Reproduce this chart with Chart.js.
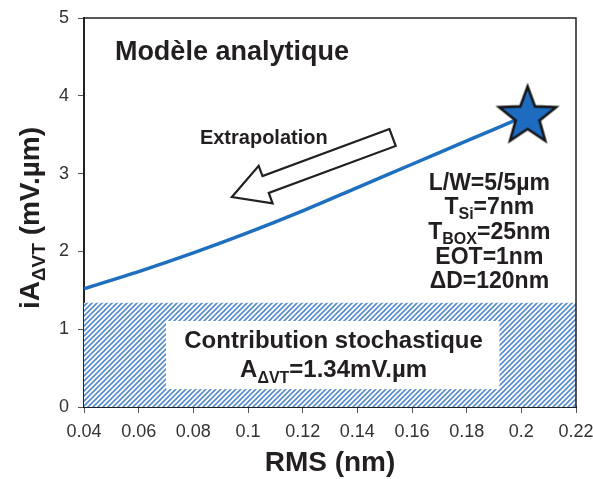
<!DOCTYPE html>
<html><head><meta charset="utf-8">
<script src="https://cdn.jsdelivr.net/npm/chart.js@4.4.0/dist/chart.umd.min.js"></script>
<style>html,body{margin:0;padding:0;background:#fff}#wrap{width:593px;height:479px}</style>
</head><body><div id="wrap"><canvas id="c" width="593" height="479"></canvas></div>
<script>
// ---- data ----
const rmsValues = [0.04, 0.06, 0.08, 0.10, 0.12, 0.14, 0.16, 0.18, 0.20, 0.2023];
const aValues   = [1.52, 1.74, 1.98, 2.24, 2.52, 2.82, 3.12, 3.42, 3.72, 3.76];
const starRms = [0.2023];
const starA   = [3.76];
const stochasticLevel = 1.34;
const xTickValues = [0.04, 0.06, 0.08, 0.10, 0.12, 0.14, 0.16, 0.18, 0.20, 0.22];
const xTickLabels = ['0.04','0.06','0.08','0.1','0.12','0.14','0.16','0.18','0.2','0.22'];
const yTickValues = [0, 1, 2, 3, 4, 5];
const yTickLabels = ['0','1','2','3','4','5'];
const paramLines = [
  [['L/W=5/5µm', false]],
  [['T', false], ['Si', true], ['=7nm', false]],
  [['T', false], ['BOX', true], ['=25nm', false]],
  [['EOT=1nm', false]],
  [['ΔD=120nm', false]]
];

const FONT = '"Liberation Sans", Arial, Helvetica, sans-serif';
const BLUE = '#1f6fbf';

function makeHatch() {
  const n = 5;
  const c = document.createElement('canvas'); c.width = n; c.height = n;
  const g = c.getContext('2d');
  g.fillStyle = '#ffffff'; g.fillRect(0, 0, n, n);
  g.strokeStyle = '#5a8dcd'; g.lineWidth = 1.7;
  g.beginPath();
  g.moveTo(-1, n + 1); g.lineTo(n + 1, -1);
  g.moveTo(-2, 2); g.lineTo(2, -2);
  g.moveTo(n - 2, n + 2); g.lineTo(n + 2, n - 2);
  g.stroke();
  return g.createPattern(c, 'repeat');
}
function makeStar() {
  const s = 66, c = document.createElement('canvas'); c.width = s; c.height = s;
  const g = c.getContext('2d');
  const cx = s / 2, cy = s / 2 + 2, R = 30, r = 12.5;
  g.beginPath();
  for (let i = 0; i < 10; i++) {
    const ang = -Math.PI / 2 + i * Math.PI / 5;
    const rr = i % 2 === 0 ? R : r;
    const px = cx + rr * Math.cos(ang), py = cy + rr * Math.sin(ang);
    i === 0 ? g.moveTo(px, py) : g.lineTo(px, py);
  }
  g.closePath();
  g.fillStyle = '#1d6cc0'; g.fill();
  g.lineJoin = 'miter'; g.lineWidth = 2.6; g.strokeStyle = '#151515'; g.stroke();
  return c;
}

function drawSegs(ctx, segs, x, y, bigPx, smallPx, subDrop, align) {
  let total = 0;
  segs.forEach(([t, sub]) => {
    ctx.font = 'bold ' + (sub ? smallPx : bigPx) + 'px ' + FONT;
    total += ctx.measureText(t).width;
  });
  let cur = align === 'center' ? x - total / 2 : x;
  ctx.textAlign = 'left'; ctx.textBaseline = 'alphabetic';
  segs.forEach(([t, sub]) => {
    ctx.font = 'bold ' + (sub ? smallPx : bigPx) + 'px ' + FONT;
    ctx.fillText(t, cur, y + (sub ? subDrop : 0));
    cur += ctx.measureText(t).width;
  });
}

const decor = {
  id: 'decor',
  afterDatasetsDraw(chart) {
    const ctx = chart.ctx, xs = chart.scales.x, ys = chart.scales.y, a = chart.chartArea;
    const X = v => xs.getPixelForValue(v), Y = v => ys.getPixelForValue(v);
    ctx.save();
    // frame top/right
    ctx.strokeStyle = '#222'; ctx.lineWidth = 1.5;
    ctx.beginPath();
    ctx.moveTo(a.left, a.top); ctx.lineTo(a.right, a.top); ctx.lineTo(a.right, a.bottom);
    ctx.stroke();
    // white box in the hatch
    const bx0 = X(0.07), bx1 = X(0.192), by0 = Y(1.105), by1 = Y(0.23);
    ctx.fillStyle = '#fff'; ctx.fillRect(bx0, by0, bx1 - bx0, by1 - by0);
    ctx.fillStyle = '#231f20';
    drawSegs(ctx, [['Contribution stochastique', false]], X(0.1313), Y(0.758), 24, 16, 6, 'center');
    drawSegs(ctx, [['A', false], ['ΔVT', true], ['=1.34mV.µm', false]], X(0.1313), Y(0.386), 24, 16, 6, 'center');
    // model title
    ctx.font = 'bold 27px ' + FONT; ctx.textAlign = 'left'; ctx.textBaseline = 'alphabetic';
    ctx.fillText('Modèle analytique', X(0.0513), Y(4.46));
    // Extrapolation
    ctx.font = 'bold 20px ' + FONT;
    ctx.fillText('Extrapolation', X(0.0824), Y(3.38));
    // params
    const pb = [2.789, 2.481, 2.159, 1.838, 1.530];
    paramLines.forEach((segs, i) => drawSegs(ctx, segs, X(0.1883), Y(pb[i]), 23, 16, 5, 'center'));
    // arrow
    const tx = X(0.1529), ty = Y(3.464), hx = X(0.0941), hy = Y(2.699);
    const dx = hx - tx, dy = hy - ty, L = Math.hypot(dx, dy);
    const ux = dx / L, uy = dy / L, nx = -uy, ny = ux;
    const sw = 9, hw = 20, hl = 36;
    const bx = hx - ux * hl, by = hy - uy * hl;
    ctx.beginPath();
    ctx.moveTo(tx + nx * sw, ty + ny * sw);
    ctx.lineTo(bx + nx * sw, by + ny * sw);
    ctx.lineTo(bx + nx * hw, by + ny * hw);
    ctx.lineTo(hx, hy);
    ctx.lineTo(bx - nx * hw, by - ny * hw);
    ctx.lineTo(bx - nx * sw, by - ny * sw);
    ctx.lineTo(tx - nx * sw, ty - ny * sw);
    ctx.closePath();
    ctx.fillStyle = '#fff'; ctx.fill();
    ctx.lineWidth = 2.2; ctx.strokeStyle = '#231f20'; ctx.lineJoin = 'miter'; ctx.stroke();
    ctx.restore();
  },
  afterDraw(chart) {
    const ctx = chart.ctx, a = chart.chartArea;
    ctx.save();
    ctx.fillStyle = '#231f20';
    ctx.font = 'bold 28px ' + FONT; ctx.textAlign = 'center'; ctx.textBaseline = 'alphabetic';
    ctx.fillText('RMS (nm)', (a.left + a.right) / 2, 471);
    ctx.translate(39, 218);
    ctx.rotate(-Math.PI / 2);
    drawSegs(ctx, [['iA', false], ['ΔVT', true], [' (mV.µm)', false]], 0, 0, 28, 19, 6, 'center');
    ctx.restore();
  }
};

const hatch = makeHatch();
const starImg = makeStar();

new Chart(document.getElementById('c'), {
  type: 'line',
  data: {
    datasets: [
      {
        data: starRms.map((x, i) => ({ x, y: starA[i] })),
        showLine: false, pointStyle: starImg, pointRadius: 1, borderWidth: 0, order: 0
      },
      {
        data: rmsValues.map((x, i) => ({ x, y: aValues[i] })),
        borderColor: BLUE, borderWidth: 3.5, pointRadius: 0, tension: 0.3, fill: false, order: 1
      },
      {
        data: [{ x: xTickValues[0], y: stochasticLevel }, { x: xTickValues[xTickValues.length - 1], y: stochasticLevel }],
        borderWidth: 0, pointRadius: 0, fill: 'origin', backgroundColor: hatch, order: 2
      }
    ]
  },
  options: {
    responsive: false, animation: false, devicePixelRatio: 1,
    layout: { padding: { left: 0, right: 17, top: 18, bottom: 0 } },
    plugins: { legend: { display: false }, tooltip: { enabled: false } },
    scales: {
      x: {
        type: 'linear', min: 0.04, max: 0.22,
        afterBuildTicks: s => { s.ticks = xTickValues.map(v => ({ value: v })); },
        afterFit: s => { s.height = 72; s.paddingLeft = 0; s.paddingRight = 0; },
        grid: { display: true, drawOnChartArea: false, drawTicks: true, tickLength: 6, color: '#555', lineWidth: 1 },
        border: { display: true, color: '#222', width: 2 },
        ticks: {
          padding: 8, color: '#333', font: { family: FONT, size: 18 },
          callback: (v) => xTickLabels[xTickValues.findIndex(t => Math.abs(t - v) < 1e-9)]
        }
      },
      y: {
        type: 'linear', min: 0, max: 5,
        afterBuildTicks: s => { s.ticks = yTickValues.map(v => ({ value: v })); },
        afterFit: s => { s.width = 84; s.paddingTop = 0; s.paddingBottom = 0; },
        grid: { display: true, drawOnChartArea: false, drawTicks: true, tickLength: 6, color: '#555', lineWidth: 1 },
        border: { display: true, color: '#222', width: 2 },
        ticks: {
          padding: 9, color: '#333', font: { family: FONT, size: 18 },
          callback: (v) => yTickLabels[yTickValues.indexOf(v)]
        }
      }
    }
  },
  plugins: [decor]
});
</script>
</body></html>
